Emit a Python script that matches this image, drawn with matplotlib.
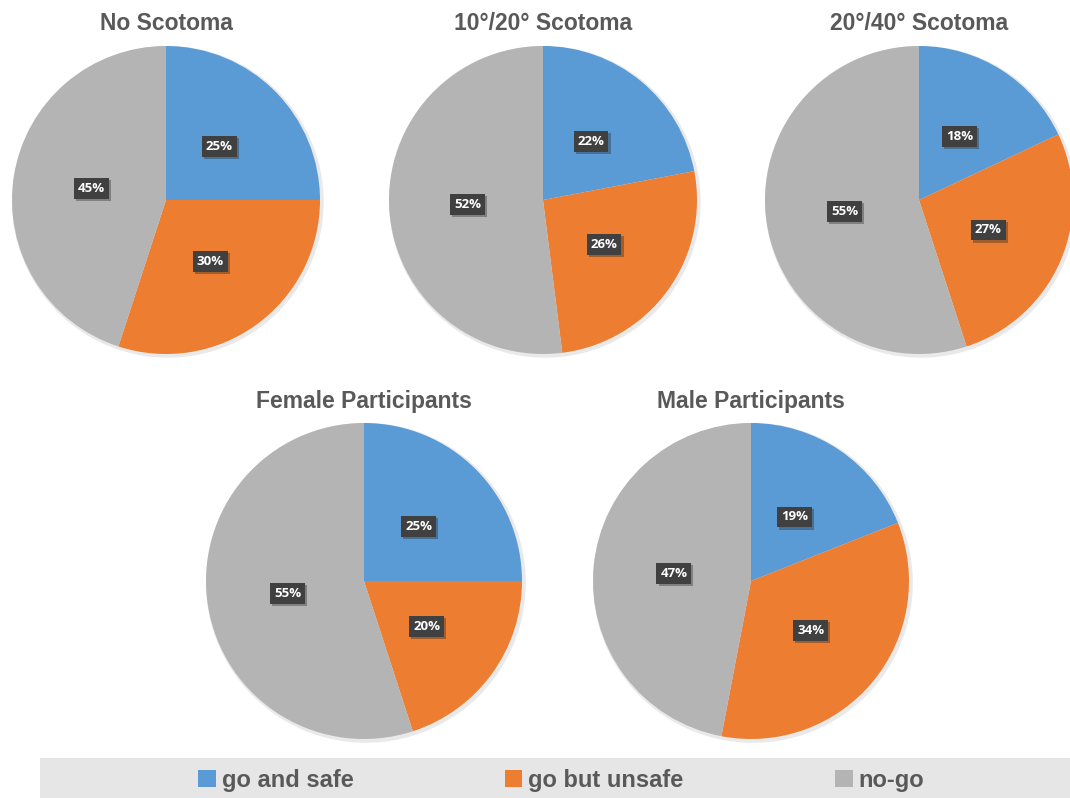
import matplotlib
matplotlib.use('Agg')
import matplotlib.pyplot as plt
from matplotlib.patches import Rectangle, Patch, Circle
import matplotlib.patheffects as pe

# data (percent of responses)
titles = ['No Scotoma', '10°/20° Scotoma', '20°/40° Scotoma',
          'Female Participants', 'Male Participants']
categories = ['go and safe', 'go but unsafe', 'no-go']
go_safe = [25, 22, 18, 25, 19]
go_unsafe = [30, 26, 27, 20, 34]
no_go = [45, 52, 55, 55, 47]
colors = ['#5B9BD5', '#ED7D31', '#B4B4B4']

W, H = 1070, 798
fig = plt.figure(figsize=(W / 100, H / 100), dpi=100)
fig.patch.set_facecolor('white')

# pie centers/radii in pixels (x from left, y from top)
layout = [(166, 200, 154), (543, 200, 154), (919, 200, 154),
          (364, 581, 158), (751, 581, 158)]
title_y = [23, 23, 23, 401, 401]

title_color = '#595959'

for i, (cx, cy, r) in enumerate(layout):
    ax = fig.add_axes([(cx - r) / W, (H - cy - r) / H, 2 * r / W, 2 * r / H])
    # faint shadow under the pie
    glow = Circle((0.012, -0.012), 1.012, facecolor='#e9e9e9', edgecolor='none',
                  zorder=0, clip_on=False)
    ax.add_patch(glow)
    vals = [go_safe[i], go_unsafe[i], no_go[i]]
    wedges, texts, autotexts = ax.pie(
        vals, colors=colors, startangle=90, counterclock=False,
        radius=1, autopct='%.0f%%', pctdistance=0.49,
        wedgeprops=dict(linewidth=0),
        textprops=dict(color='white', fontsize=9.5, fontweight='bold',
                       family=['Open Sans', 'DejaVu Sans']))
    for w in wedges:
        w.set_clip_on(False)
    for t in autotexts:
        t.set_bbox(dict(boxstyle='square,pad=0.3', facecolor='#404040', edgecolor='none'))
        t.get_bbox_patch().set_path_effects([
            pe.SimplePatchShadow(offset=(1.5, -1.5), shadow_rgbFace='#202020', alpha=0.35),
            pe.Normal()])
    ax.set_xlim(-1, 1)
    ax.set_ylim(-1, 1)
    ax.set_aspect('equal')
    ax.axis('off')

    fig.text(cx / W, 1 - title_y[i] / H, titles[i], ha='center', va='center',
             fontsize=16.5, fontweight='bold', color=title_color,
             family=['Liberation Sans', 'DejaVu Sans'])

# legend band at the bottom
fig.patches.append(Rectangle((40 / W, 0), 1 - 40 / W, 40 / H, transform=fig.transFigure,
                             facecolor='#E6E6E6', edgecolor='none', zorder=0))

handles = [Patch(facecolor=c, edgecolor='none') for c in colors]
leg = fig.legend(handles, categories, loc='center', bbox_to_anchor=(561 / W, 1 - 780 / H),
                 ncol=3, frameon=False, handlelength=0.76, handleheight=0.76,
                 handletextpad=0.25, columnspacing=6.4,
                 prop=dict(family=['Liberation Sans', 'DejaVu Sans'], weight='bold', size=17))
for t in leg.get_texts():
    t.set_color(title_color)

fig.savefig('out.png', dpi=100)
